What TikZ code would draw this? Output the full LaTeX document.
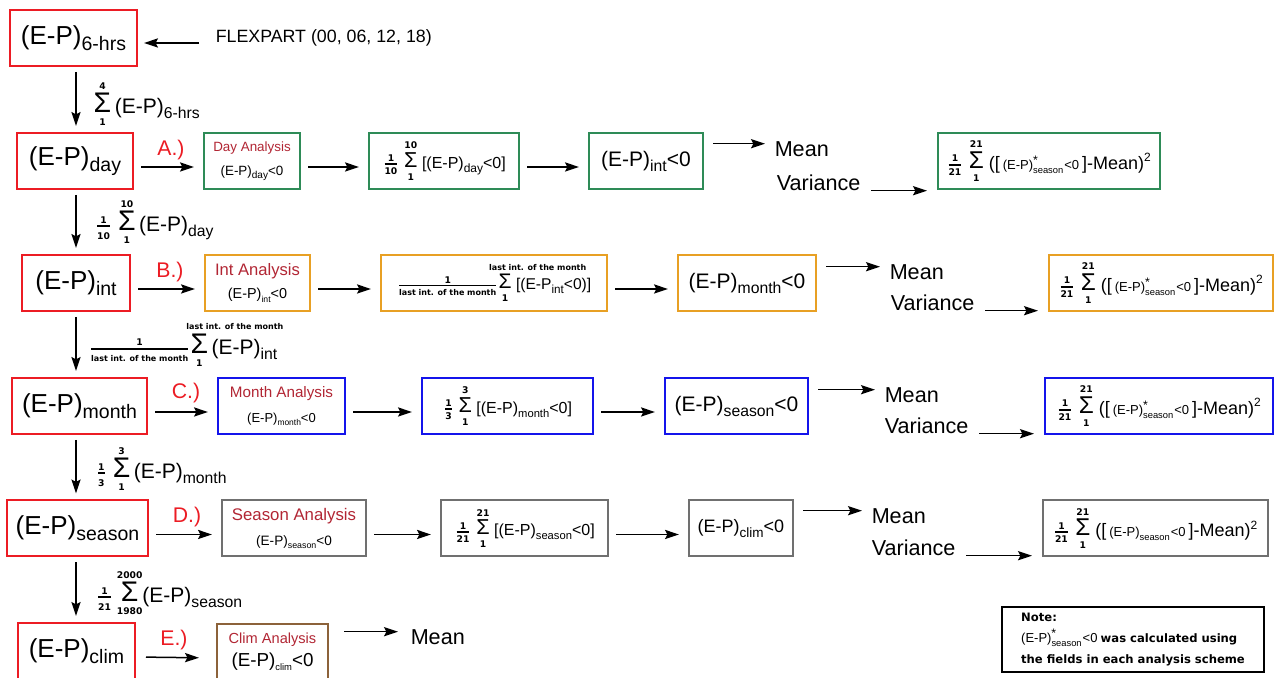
\documentclass[tikz,border=0pt]{standalone}
\usepackage{fontspec}
\usepackage{graphicx}
\setmainfont{Liberation Sans}
\newfontfamily\dvsans{DejaVu Sans}
\usetikzlibrary{arrows.meta,positioning}

\definecolor{epred}{RGB}{236,28,36}
\definecolor{antred}{RGB}{178,38,52}
\definecolor{dayg}{RGB}{46,139,87}
\definecolor{intor}{RGB}{232,160,36}
\definecolor{monthb}{RGB}{20,20,235}
\definecolor{seasong}{RGB}{112,112,112}
\definecolor{climbr}{RGB}{140,98,58}

% (E-P) with a lowered subscript
\newcommand{\eps}[2][0.75]{(E-P)\raisebox{-0.45ex}{\scalebox{#1}{#2}}}
% small bold limits and fractions
\newcommand{\limf}{\dvsans\bfseries\fontsize{4.6}{5}\selectfont}
\newcommand{\lastint}{{\fontsize{4}{5}\selectfont last int. of the month}}
\newcommand{\sig}{\hbox{\raisebox{0.1ex}{\scalebox{1.35}{Σ}}}}
\newcommand{\lsum}[2]{\ensuremath{\mathop{\sig}\limits^{\hbox{\limf #1}}_{\hbox{\limf #2}}}}
\newcommand{\lsumr}[3][6.5pt]{\ensuremath{\mathop{\sig}\limits^{\hbox{\hbox to 0pt{\kern-#1\limf #2\hss}}}_{\hbox{\limf #3}}}}
\newcommand{\lfrac}[2]{\ensuremath{{\hbox{\limf #1}\above 0.8pt\hbox{\limf #2}}}}
\newcommand{\antitle}[1]{\textcolor{antred}{#1}}
% inner term of the variance boxes
\newcommand{\vin}[1]{{\fontsize{6.5}{8}\selectfont\ensuremath{\hbox{(E-P)}^{\hbox{\scalebox{0.95}{#1}}}_{\hbox{\scalebox{0.72}{season}}}}\hbox{<0}}}

\tikzset{
  basic/.style     = {draw, rectangle, inner sep=0pt, align=center, line width=1pt,
                      minimum height=28pt},
  epbox/.style     = {basic, draw=epred, font=\fontsize{13}{15}\selectfont},
  daybox/.style    = {basic, draw=dayg},
  intbox/.style    = {basic, draw=intor},
  monthbox/.style  = {basic, draw=monthb},
  seasonbox/.style = {basic, draw=seasong},
  climbox/.style   = {basic, draw=climbr},
  notebox/.style   = {basic, draw=black, align=left, minimum height=32.5pt},
  vboxfont/.style  = {font=\fontsize{9}{11}\selectfont},
  sumfont/.style   = {font=\fontsize{8}{10}\selectfont},
  rowtag/.style    = {inner sep=0pt, text=epred, font=\fontsize{10.6}{12}\selectfont},
  txt/.style       = {inner sep=0pt, anchor=west, font=\fontsize{10.8}{12}\selectfont},
  sumlbl/.style    = {inner sep=0pt, anchor=west, font=\fontsize{10.5}{12}\selectfont}
}

\begin{document}
\begin{tikzpicture}[x=0.5pt, y=-0.5pt,
  >={Stealth[length=7pt,width=4.6pt,inset=1.2pt]},
  every path/.style={line width=0.75pt}]
\useasboundingbox[fill=white] (0,0) rectangle (1276,678);

% x of the down arrows
\coordinate (spine) at (76,0);

% left column
\node[epbox, minimum width=63.5pt] (h6) at (73.5,38) {\eps{6-hrs}};
\node[epbox, minimum width=58pt] (day) at (75,161) {\eps{day}};
\node[epbox, minimum width=54pt] (int) at (76,283) {\eps{int}};
\node[epbox, minimum width=67.5pt] (month) at (79.5,406) {\eps{month}};
\node[epbox, minimum width=70.5pt] (season) at (77.5,528.5) {\eps{season}};
\node[epbox, minimum width=58.5pt] (clim) at (76.5,651) {\eps{clim}};

\node[inner sep=0pt, anchor=base west, font=\fontsize{8.9}{10}\selectfont] (flex) at (215,43) {FLEXPART (00, 06, 12, 18)};

% labels of the down arrows
\node[sumlbl] (l-h6) at (93,104) {\lsum{4}{1}\,\eps{6-hrs}};
\node[sumlbl] (l-day) at (94,222) {\lfrac{1}{10}\;\lsum{10}{1}\,\eps{day}};
\node[sumlbl] (l-int) at (88,345) {\lfrac{1}{\lastint}\lsumr{\lastint}{1}\,\eps{int}};
\node[sumlbl] (l-month) at (95,469) {\lfrac{1}{3}\;\lsum{3}{1}\,\eps{month}};
\node[sumlbl] (l-season) at (95,593) {\lfrac{1}{21}\,\lsum{2000}{1980}\eps{season}};

% A.) day
\node[rowtag] (ta) at (171,150) {A.)};
\node[daybox, minimum width=48pt, font=\fontsize{6.7}{12}\selectfont] (day-an) at (252,161) {\antitle{Day Analysis}\\\eps{day}<0};
\node[daybox, sumfont, minimum width=75pt] (day-sum) at (444,161) {\lfrac{1}{10}\;\lsum{10}{1}\;[\eps{day}<0]};
\node[daybox, minimum width=57pt, font=\fontsize{10.5}{12}\selectfont] (day-res) at (646,161) {\eps{int}<0};
\node[txt] (day-mean) at (774,149) {Mean};
\node[txt] (day-var) at (776,183) {Variance};
\node[daybox, vboxfont, minimum width=111pt] (day-vbox) at (1049,161) {\lfrac{1}{21}\;\lsum{21}{1}\;([\,\vin{*}\,]-Mean)\textsuperscript{2}};

% B.) int
\node[rowtag] (tb) at (170,272) {B.)};
\node[intbox, minimum width=52.5pt, font=\fontsize{8.3}{11.5}\selectfont] (int-an) at (257.5,283) {\antitle{Int Analysis}\\{\fontsize{7.2}{8}\selectfont\eps[0.6]{int}<0}};
\node[intbox, minimum width=113pt, font=\fontsize{7.8}{10}\selectfont] (int-sum) at (494,283) {\lfrac{1}{\lastint}\lsumr[8pt]{\lastint}{1}\;[(E-P\raisebox{-0.45ex}{\scalebox{0.75}{int}}<0)]};
\node[intbox, minimum width=69pt, font=\fontsize{10.5}{12}\selectfont] (int-res) at (747,283) {\eps{month}<0};
\node[txt] (int-mean) at (889,272) {Mean};
\node[txt] (int-var) at (890,303) {Variance};
\node[intbox, vboxfont, minimum width=112pt] (int-vbox) at (1161,283) {\lfrac{1}{21}\;\lsum{21}{1}\;([\,\vin{*}\,]-Mean)\textsuperscript{2}};

% C.) month
\node[rowtag] (tc) at (186,393) {C.)};
\node[monthbox, minimum width=63.5pt, font=\fontsize{7.6}{12.5}\selectfont] (month-an) at (281.5,406) {\antitle{Month Analysis}\\{\fontsize{6.5}{8}\selectfont\eps[0.65]{month}<0}};
\node[monthbox, sumfont, minimum width=85.5pt] (month-sum) at (507.5,406) {\lfrac{1}{3}\;\lsum{3}{1}\;[\eps[0.7]{month}<0]};
\node[monthbox, minimum width=71.5pt, font=\fontsize{10.5}{12}\selectfont] (month-res) at (736.5,406) {\eps{season}<0};
\node[txt] (month-mean) at (884,395) {Mean};
\node[txt] (month-var) at (884,426) {Variance};
\node[monthbox, vboxfont, minimum width=114pt] (month-vbox) at (1159,406) {\lfrac{1}{21}\;\lsum{21}{1}\;([\,\vin{*}\,]-Mean)\textsuperscript{2}};

% D.) season
\node[rowtag] (td) at (187,517) {D.)};
\node[seasonbox, minimum width=72pt, font=\fontsize{8.4}{12.5}\selectfont] (season-an) at (294,528.5) {\antitle{Season Analysis}\\{\fontsize{6.8}{8}\selectfont\eps[0.65]{season}<0}};
\node[seasonbox, sumfont, minimum width=83.5pt] (season-sum) at (524.5,528.5) {\lfrac{1}{21}\;\lsum{21}{1}\;[\eps[0.7]{season}<0]};
\node[seasonbox, minimum width=52pt, font=\fontsize{9}{11}\selectfont] (season-res) at (741,528.5) {\eps{clim}<0};
\node[txt] (season-mean) at (871,516) {Mean};
\node[txt] (season-var) at (871,548) {Variance};
\node[seasonbox, vboxfont, minimum width=112.5pt] (season-vbox) at (1155.5,528.5) {\lfrac{1}{21}\;\lsum{21}{1}\;([\,\vin{}\,]-Mean)\textsuperscript{2}};

% E.) clim
\node[rowtag] (te) at (174,640) {E.)};
\node[climbox, minimum width=55.5pt, font=\fontsize{7.3}{11.5}\selectfont] (clim-an) at (272.5,652) {\antitle{Clim Analysis}\\{\fontsize{9.4}{10}\selectfont\eps[0.5]{clim}<0}};
\node[txt] (clim-mean) at (410,637) {Mean};

% note
\node[notebox, minimum width=131pt, font=\fontsize{5.8}{10.5}\selectfont] (note) at (1133,639.5)
  {{\dvsans\bfseries Note:}\\ \vin{*} {\dvsans\bfseries was calculated using}\\ {\dvsans\bfseries the fields in each analysis scheme}};

% arrows
\draw[->] ([xshift=-8pt]flex.base west) -- ([xshift=3pt]h6.east |- flex.base west);

\foreach \a/\b in {h6/day, day/int, int/month, month/season, season/clim}
  \draw[->, shorten <=2.5pt, shorten >=3pt] (\a.south -| spine) -- (\b.north -| spine);

\foreach \r in {day,int,month,season}{
  \draw[->, shorten <=3.5pt, shorten >=4.5pt] ([yshift=-3pt]\r.east) -- ([yshift=-3pt]\r-an.west);
  \draw[->, shorten <=3.5pt, shorten >=4.5pt] ([yshift=-3pt]\r-an.east) -- ([yshift=-3pt]\r-sum.west);
  \draw[->, shorten <=3.5pt, shorten >=4.5pt] ([yshift=-3pt]\r-sum.east) -- ([yshift=-3pt]\r-res.west);
  \draw[->] ([xshift=4.5pt,yshift=-1.5pt]\r-res.east |- \r-mean.north) -- ([xshift=-4.5pt,yshift=-1.5pt]\r-mean.north west);
  \draw[->] ([xshift=5pt]\r-var.base east) -- ([xshift=-5pt]\r-var.base east -| \r-vbox.west);
}

\draw[->, shorten <=5pt, shorten >=8.5pt] ([yshift=-3pt]clim.east) -- ([yshift=-3pt]clim-an.west);
\draw[->] ([xshift=7.5pt,yshift=-1.5pt]clim-an.east |- clim-mean.north) -- ([xshift=-6pt,yshift=-1.5pt]clim-mean.north west);
\end{tikzpicture}
\end{document}
